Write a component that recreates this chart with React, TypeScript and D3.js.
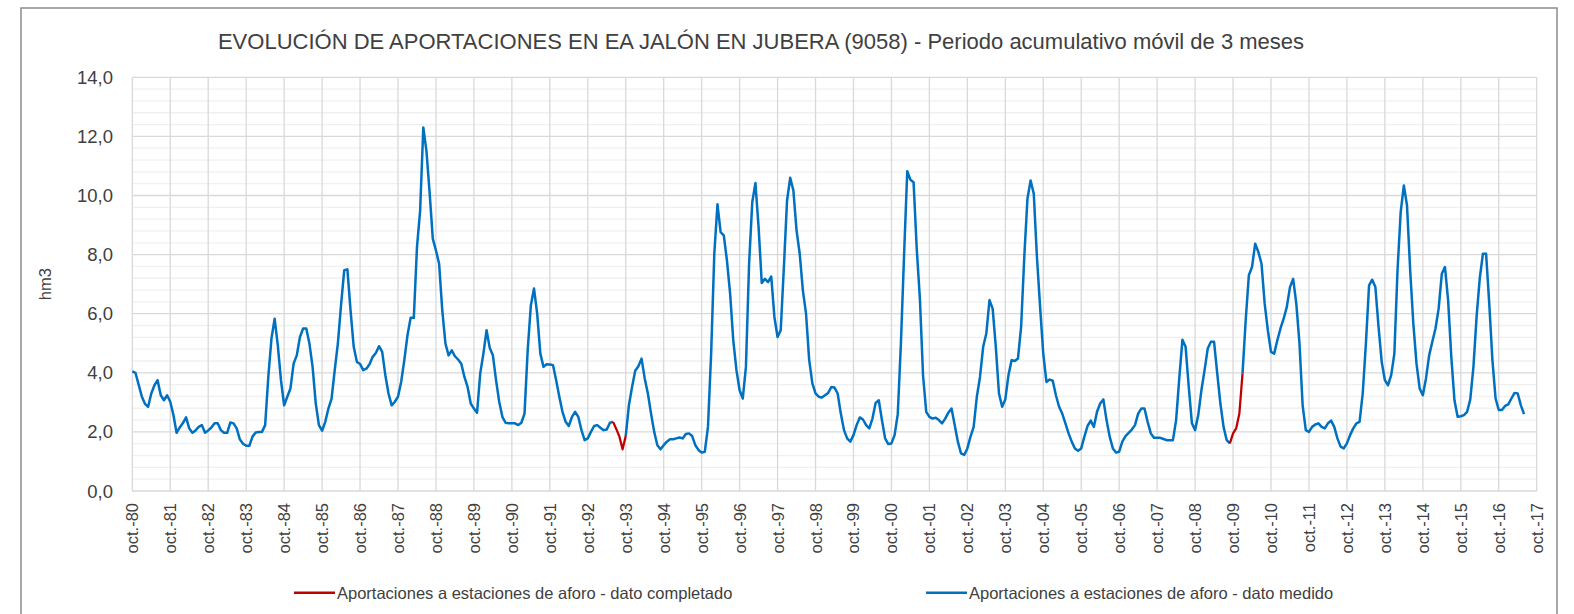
import * as d3 from "d3";

// Aportaciones (hm3), periodo acumulativo móvil de 3 meses, de oct-80 a jun-17 (una fila por año hidrológico)
const valores: number[] = [
  4.05, 4.0, 3.6, 3.2, 2.95, 2.85, 3.3, 3.58, 3.75, 3.24, 3.07, 3.24,
  3.02, 2.57, 1.97, 2.15, 2.3, 2.49, 2.12, 1.97, 2.05, 2.17, 2.23, 1.97,
  2.05, 2.15, 2.29, 2.29, 2.06, 1.97, 1.97, 2.32, 2.29, 2.12, 1.75, 1.6,
  1.53, 1.53, 1.84, 1.98, 2.0, 2.0, 2.23, 3.86, 5.16, 5.83, 4.93, 3.75,
  2.9, 3.19, 3.47, 4.31, 4.59, 5.21, 5.5, 5.5, 4.99, 4.2, 2.96, 2.23,
  2.04, 2.34, 2.79, 3.13, 4.09, 5.0, 6.3, 7.47, 7.5, 6.11, 4.88, 4.37,
  4.3, 4.09, 4.14, 4.29, 4.54, 4.67, 4.9, 4.71, 3.92, 3.3, 2.9, 3.02,
  3.19, 3.69, 4.43, 5.27, 5.86, 5.86, 8.25, 9.49, 12.3, 11.5, 10.1, 8.54,
  8.14, 7.69, 6.11, 4.99, 4.59, 4.76, 4.56, 4.45, 4.31, 3.86, 3.52, 2.96,
  2.79, 2.65, 3.98, 4.65, 5.44, 4.85, 4.59, 3.75, 3.02, 2.51, 2.31, 2.29,
  2.29, 2.29, 2.23, 2.31, 2.62, 4.76, 6.28, 6.85, 6.0, 4.65, 4.2, 4.29,
  4.28, 4.26, 3.75, 3.19, 2.68, 2.34, 2.2, 2.51, 2.68, 2.51, 2.06, 1.72,
  1.78, 2.0, 2.2, 2.23, 2.14, 2.06, 2.08, 2.31, 2.34, 2.1, 1.84, 1.41,
  1.86, 2.9, 3.52, 4.07, 4.22, 4.48, 3.81, 3.3, 2.62, 2.0, 1.55, 1.41,
  1.55, 1.67, 1.75, 1.75, 1.78, 1.81, 1.78, 1.93, 1.95, 1.86, 1.55, 1.39,
  1.3, 1.33, 2.17, 4.65, 8.03, 9.7, 8.76, 8.65, 7.8, 6.68, 5.1, 4.09,
  3.41, 3.13, 4.2, 7.69, 9.77, 10.42, 8.93, 7.04, 7.18, 7.07, 7.26, 5.89,
  5.21, 5.44, 7.58, 9.83, 10.6, 10.17, 8.82, 8.03, 6.79, 6.0, 4.43, 3.64,
  3.3, 3.19, 3.16, 3.24, 3.32, 3.52, 3.5, 3.3, 2.62, 2.06, 1.78, 1.67,
  1.89, 2.23, 2.49, 2.42, 2.23, 2.12, 2.45, 2.98, 3.07, 2.4, 1.78, 1.59,
  1.61, 1.89, 2.6, 5.0, 8.0, 10.82, 10.53, 10.45, 8.2, 6.5, 3.9, 2.68,
  2.51, 2.45, 2.48, 2.4, 2.29, 2.45, 2.65, 2.79, 2.23, 1.67, 1.27, 1.22,
  1.44, 1.84, 2.17, 3.19, 3.86, 4.88, 5.33, 6.46, 6.17, 4.88, 3.3, 2.85,
  3.1, 3.92, 4.43, 4.4, 4.48, 5.55, 7.92, 9.89, 10.51, 10.06, 7.92, 6.23,
  4.65, 3.69, 3.77, 3.73, 3.24, 2.85, 2.62, 2.29, 1.95, 1.67, 1.44, 1.36,
  1.44, 1.84, 2.2, 2.38, 2.17, 2.68, 2.96, 3.1, 2.4, 1.84, 1.44, 1.3,
  1.33, 1.67, 1.86, 1.97, 2.08, 2.23, 2.62, 2.79, 2.79, 2.34, 1.95, 1.8,
  1.8, 1.8, 1.76, 1.72, 1.72, 1.72, 2.4, 3.81, 5.12, 4.88, 3.52, 2.29,
  2.06, 2.57, 3.41, 4.09, 4.82, 5.05, 5.05, 3.98, 2.96, 2.17, 1.72, 1.61,
  1.95, 2.12, 2.62, 3.98, 5.78, 7.3, 7.58, 8.37, 8.09, 7.69, 6.34, 5.44,
  4.71, 4.65, 5.1, 5.5, 5.83, 6.23, 6.9, 7.18, 6.34, 5.0, 2.9, 2.06,
  2.0, 2.17, 2.25, 2.29, 2.17, 2.12, 2.29, 2.38, 2.17, 1.78, 1.5, 1.44,
  1.61, 1.89, 2.12, 2.29, 2.34, 3.3, 4.99, 6.96, 7.15, 6.9, 5.55, 4.37,
  3.75, 3.58, 3.92, 4.65, 7.47, 9.44, 10.34, 9.66, 7.47, 5.66, 4.31, 3.47,
  3.24, 3.81, 4.59, 5.05, 5.5, 6.17, 7.35, 7.58, 6.45, 4.54, 3.07, 2.51,
  2.53, 2.57, 2.68, 3.1, 4.2, 5.9, 7.2, 8.03, 8.03, 6.34, 4.43, 3.13,
  2.74, 2.74, 2.88, 2.93, 3.13, 3.32, 3.3, 2.9, 2.6,
];

// tramos (índices de mes) con dato completado
const completados: [number, number][] = [
  [152, 156],
  [347, 351],
];

const etiquetasX = [
  "oct.-80", "oct.-81", "oct.-82", "oct.-83", "oct.-84", "oct.-85", "oct.-86",
  "oct.-87", "oct.-88", "oct.-89", "oct.-90", "oct.-91", "oct.-92", "oct.-93",
  "oct.-94", "oct.-95", "oct.-96", "oct.-97", "oct.-98", "oct.-99", "oct.-00",
  "oct.-01", "oct.-02", "oct.-03", "oct.-04", "oct.-05", "oct.-06", "oct.-07",
  "oct.-08", "oct.-09", "oct.-10", "oct.-11", "oct.-12", "oct.-13", "oct.-14",
  "oct.-15", "oct.-16", "oct.-17",
];
const ticksY = [0, 2, 4, 6, 8, 10, 12, 14];

const titulo =
  "EVOLUCIÓN DE APORTACIONES EN EA JALÓN EN JUBERA (9058) - Periodo acumulativo móvil de 3 meses";
const leyenda = [
  { nombre: "Aportaciones a estaciones de aforo - dato completado", color: "#c00000" },
  { nombre: "Aportaciones a estaciones de aforo - dato medido", color: "#0070c0" },
];

const FONT = "'Liberation Sans', Arial, sans-serif";
const TXT = "#404040";

export default function App() {
  const width = 1574;
  const height = 614;
  const left = 132.3, right = 1536.7, top = 77.3, bottom = 491;

  const x = d3.scaleLinear().domain([0, 12 * (etiquetasX.length - 1)]).range([left, right]);
  const y = d3.scaleLinear().domain([0, 14]).range([bottom, top]);

  const dentro = (i: number) => completados.some(([a, b]) => i > a && i < b);
  const enTramo = (i: number) => completados.some(([a, b]) => i >= a && i <= b);

  const lineaMedido = d3
    .line<number>()
    .defined((_, i) => !dentro(i))
    .x((_, i) => x(i))
    .y((d) => y(d));
  const lineaCompletado = d3
    .line<number>()
    .defined((_, i) => enTramo(i))
    .x((_, i) => x(i))
    .y((d) => y(d));

  const menores = d3.range(0, 14.001, 0.4).filter((v) => Math.abs(v / 2 - Math.round(v / 2)) > 0.01);

  return (
    <svg
      width={width}
      height={height}
      style={{ position: "absolute", left: 0, top: 0, background: "#fff" }}
      fontFamily={FONT}
    >
      <rect x={21} y={8} width={1536} height={640} fill="#fff" stroke="#8c8c8c" strokeWidth={1.5} />

      <text x={761} y={48.5} textAnchor="middle" fontSize={22} fill={TXT}>
        {titulo}
      </text>

      {/* rejilla */}
      {menores.map((v) => (
        <line key={"m" + v} x1={left} x2={right} y1={y(v)} y2={y(v)} stroke="#f0f0f0" strokeWidth={1.3} />
      ))}
      {ticksY.map((v) => (
        <line key={"h" + v} x1={left} x2={right} y1={y(v)} y2={y(v)} stroke="#d9d9d9" strokeWidth={1.3} />
      ))}
      {etiquetasX.map((_, k) => (
        <line key={"v" + k} x1={x(12 * k)} x2={x(12 * k)} y1={top} y2={bottom} stroke="#d9d9d9" strokeWidth={1.3} />
      ))}

      {/* eje Y */}
      {ticksY.map((v) => (
        <text key={"ty" + v} x={113} y={y(v) + 6.5} textAnchor="end" fontSize={18.5} fill={TXT}>
          {v.toFixed(1).replace(".", ",")}
        </text>
      ))}
      <text
        transform={`translate(51,${(top + bottom) / 2}) rotate(-90)`}
        textAnchor="middle"
        fontSize={16.5}
        fill={TXT}
      >
        hm3
      </text>

      {/* eje X */}
      {etiquetasX.map((t, k) => (
        <text
          key={"tx" + k}
          transform={`translate(${x(12 * k) + 6},503) rotate(-90)`}
          textAnchor="end"
          fontSize={16.5}
          fill={TXT}
        >
          {t}
        </text>
      ))}

      {/* series */}
      <path d={lineaMedido(valores) ?? ""} fill="none" stroke="#0070c0" strokeWidth={2.5} strokeLinejoin="round" />
      <path d={lineaCompletado(valores) ?? ""} fill="none" stroke="#c00000" strokeWidth={2.25} strokeLinejoin="round" />

      {/* leyenda */}
      {leyenda.map((s, k) => {
        const lx = k === 0 ? 294 : 926;
        return (
          <g key={s.nombre}>
            <line x1={lx} x2={lx + 41} y1={592.7} y2={592.7} stroke={s.color} strokeWidth={2.5} />
            <text x={lx + 43} y={598.5} fontSize={16.5} fill={TXT}>
              {s.nombre}
            </text>
          </g>
        );
      })}
    </svg>
  );
}
